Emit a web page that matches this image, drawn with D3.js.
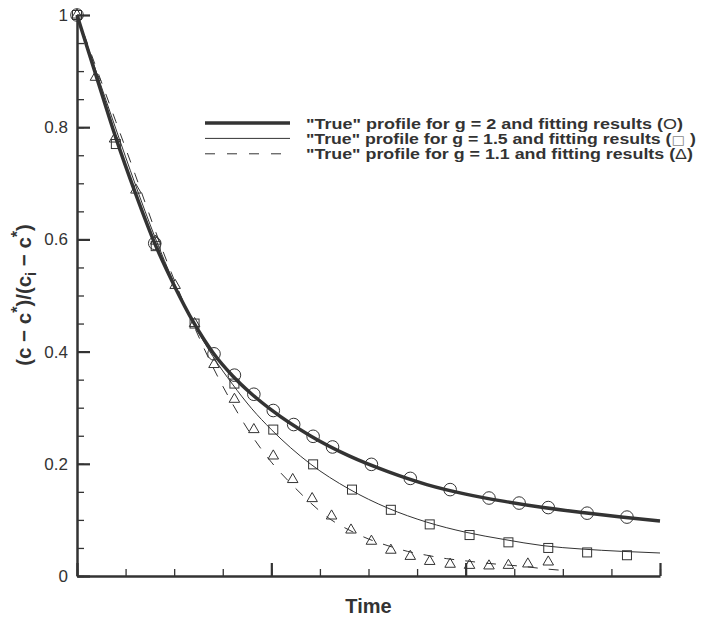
<!DOCTYPE html>
<html>
<head>
<meta charset="utf-8">
<script src="https://cdn.jsdelivr.net/npm/d3@7"></script>
<style>
  body { margin: 0; background: #fff; }
  svg { font-family: "Liberation Sans", Arial, sans-serif; }
</style>
</head>
<body>
<div id="chart"></div>
<script>
// "true" profiles
const curveTime = [0, 0.1, 0.2, 0.3, 0.4, 0.5, 0.6, 0.7, 0.8, 0.9, 1.0, 1.2, 1.4, 1.6, 1.8, 2.0, 2.2, 2.4, 2.6, 2.8, 3.0];
const curveG2  = [1.0, 0.89, 0.781, 0.683, 0.593, 0.518, 0.452, 0.398, 0.357, 0.324, 0.296, 0.250, 0.214, 0.186, 0.163, 0.146, 0.133, 0.122, 0.113, 0.105, 0.098];
const curveG15 = [1.0, 0.898, 0.797, 0.698, 0.605, 0.522, 0.450, 0.391, 0.342, 0.298, 0.261, 0.200, 0.155, 0.121, 0.096, 0.078, 0.065, 0.054, 0.048, 0.044, 0.041];
const dashTime = [0, 0.1, 0.2, 0.3, 0.4, 0.5, 0.6, 0.7, 0.8, 0.9, 1.0, 1.1, 1.2, 1.3, 1.4, 1.5, 1.6, 1.7, 1.8, 1.9, 2.0, 2.1, 2.2, 2.3, 2.4, 2.5];
const curveG11 = [1.0, 0.905, 0.81, 0.715, 0.618, 0.528, 0.447, 0.372, 0.307, 0.250, 0.203, 0.165, 0.131, 0.102, 0.082, 0.066, 0.054, 0.044, 0.037, 0.031, 0.027, 0.023, 0.020, 0.017, 0.013, 0.010];

// fitting results
const circleTime  = [0, 0.40, 0.705, 0.81, 0.91, 1.01, 1.115, 1.215, 1.315, 1.515, 1.715, 1.92, 2.12, 2.275, 2.425, 2.625, 2.83];
const circleValue = [1.0, 0.593, 0.396, 0.358, 0.324, 0.295, 0.270, 0.249, 0.230, 0.199, 0.174, 0.154, 0.139, 0.130, 0.122, 0.112, 0.105];
const squareTime  = [0, 0.2, 0.405, 0.605, 0.81, 1.01, 1.215, 1.415, 1.615, 1.815, 2.02, 2.22, 2.425, 2.625, 2.83];
const squareValue = [1.0, 0.770, 0.588, 0.450, 0.343, 0.261, 0.199, 0.154, 0.118, 0.092, 0.073, 0.060, 0.050, 0.042, 0.037];
const triTime  = [0, 0.095, 0.193, 0.303, 0.405, 0.505, 0.605, 0.705, 0.81, 0.91, 1.01, 1.11, 1.21, 1.31, 1.41, 1.515, 1.615, 1.715, 1.815, 1.92, 2.02, 2.12, 2.22, 2.32, 2.425];
const triValue = [1.0, 0.889, 0.779, 0.688, 0.597, 0.518, 0.450, 0.377, 0.315, 0.261, 0.214, 0.172, 0.138, 0.107, 0.082, 0.062, 0.046, 0.035, 0.026, 0.021, 0.019, 0.018, 0.019, 0.0215, 0.025];

// axes
const yMajor = [0, 0.2, 0.4, 0.6, 0.8, 1];
const yTickLabels = ["0", "0.2", "0.4", "0.6", "0.8", "1"];
const yMinor = d3.range(0, 1.0001, 0.05);
const xMajor = [0, 1, 2, 3];
const xMinor = d3.range(0, 3.0001, 0.25);

const legendLabels = [
  {text: '"True" profile for g = 2 and fitting results (', sym: "O", close: ")"},
  {text: '"True" profile for g = 1.5 and fitting results (', sym: "\u25A1", close: " )"},
  {text: '"True" profile for g = 1.1 and fitting results (', sym: "\u0394", close: ")"}
];

const ink = "#333";
const margin = ({top: 15, right: 42, bottom: 45, left: 77});
const width = 702 - margin.left - margin.right;
const height = 621 - margin.top - margin.bottom;

const svg = d3.select("#chart")
              .append("svg")
              .attr("width", 702)
              .attr("height", 621)
              .append("g")
              .attr("transform", "translate(" + margin.left + "," + margin.top + ")");

let xScale = d3.scaleLinear().domain([0, 3]).range([0, width]);
let yScale = d3.scaleLinear().domain([0, 1]).range([height, 0]);

// minor ticks first, then major
svg.append("g")
   .attr("class", "y-minor")
   .call(d3.axisLeft(yScale).tickValues(yMinor).tickSize(-7).tickFormat(""))
   .call(g => g.select(".domain").remove());

svg.append("g")
   .attr("class", "x-minor")
   .attr("transform", `translate(0, ${height})`)
   .call(d3.axisBottom(xScale).tickValues(xMinor).tickSize(-7).tickFormat(""))
   .call(g => g.select(".domain").remove());

svg.append("g")
   .attr("class", "y-axis")
   .call(d3.axisLeft(yScale)
           .tickValues(yMajor)
           .tickSizeInner(-13)
           .tickSizeOuter(0)
           .tickPadding(9)
           .tickFormat((d, i) => yTickLabels[i]));

svg.append("g")
   .attr("class", "x-axis")
   .attr("transform", `translate(0, ${height})`)
   .call(d3.axisBottom(xScale)
           .tickValues(xMajor)
           .tickSizeInner(-13)
           .tickSizeOuter(0)
           .tickFormat(""));

svg.selectAll(".domain").attr("stroke", ink).attr("stroke-width", 2.5);
svg.selectAll(".y-axis .tick line, .x-axis .tick line").attr("stroke", ink).attr("stroke-width", 2.2);
svg.selectAll(".y-minor .tick line, .x-minor .tick line").attr("stroke", ink).attr("stroke-width", 1.3);
svg.selectAll(".y-axis text")
   .attr("font-size", 17)
   .attr("fill", ink)
   .attr("font-family", "Liberation Sans, Arial, sans-serif");

// curves
const line = d3.line()
               .x(d => xScale(d[0]))
               .y(d => yScale(d[1]))
               .curve(d3.curveMonotoneX);

svg.append("path")
   .datum(d3.zip(curveTime, curveG2))
   .attr("fill", "none").attr("stroke", ink).attr("stroke-width", 3.5)
   .attr("d", line);

svg.append("path")
   .datum(d3.zip(curveTime, curveG15))
   .attr("fill", "none").attr("stroke", ink).attr("stroke-width", 1)
   .attr("d", line);

svg.append("path")
   .datum(d3.zip(dashTime, curveG11))
   .attr("fill", "none").attr("stroke", ink).attr("stroke-width", 1)
   .attr("stroke-dasharray", "10,11")
   .attr("d", line);

// markers
svg.selectAll(".circ")
   .data(d3.zip(circleTime, circleValue))
   .join("circle")
   .attr("class", "circ")
   .attr("cx", d => xScale(d[0]))
   .attr("cy", d => yScale(d[1]))
   .attr("r", 6.3)
   .attr("fill", "none").attr("stroke", ink).attr("stroke-width", 1);

svg.selectAll(".sq")
   .data(d3.zip(squareTime, squareValue))
   .join("rect")
   .attr("class", "sq")
   .attr("x", d => xScale(d[0]) - 4.5)
   .attr("y", d => yScale(d[1]) - 4.5)
   .attr("width", 9).attr("height", 9)
   .attr("fill", "none").attr("stroke", ink).attr("stroke-width", 1);

const tri = d3.symbol().type(d3.symbolTriangle).size(48);
svg.selectAll(".tri")
   .data(d3.zip(triTime, triValue))
   .join("path")
   .attr("class", "tri")
   .attr("transform", d => `translate(${xScale(d[0])},${yScale(d[1])})`)
   .attr("d", tri)
   .attr("fill", "none").attr("stroke", ink).attr("stroke-width", 1);

// legend
const legend = svg.append("g").attr("transform", `translate(${205 - margin.left}, ${123 - margin.top})`);
const legendDash = [null, null, "10,12"];
const legendWidth = [3.5, 1, 1];
const legendTextLength = [377, 390, 387];
legendLabels.forEach((l, i) => {
  const row = legend.append("g").attr("transform", `translate(0, ${i * 15.4})`);
  row.append("line")
     .attr("x1", 0).attr("x2", 85)
     .attr("stroke", ink)
     .attr("stroke-width", legendWidth[i])
     .attr("stroke-dasharray", legendDash[i]);
  const t = row.append("text")
     .attr("x", 101).attr("y", 5.5)
     .attr("font-size", 14.5).attr("font-weight", "bold").attr("fill", ink)
     .attr("textLength", legendTextLength[i])
     .attr("lengthAdjust", "spacingAndGlyphs");
  t.append("tspan").text(l.text);
  t.append("tspan").attr("font-weight", "normal")
   .attr("fill", i === 1 ? "#888" : ink)
   .attr("font-size", i === 1 ? 12 : 14.5)
   .attr("font-family", i === 1 ? "DejaVu Sans" : null)
   .text(l.sym);
  t.append("tspan").text(l.close);
});

// axis titles
svg.append("text")
   .attr("x", xScale(1.5))
   .attr("y", height + 37)
   .attr("text-anchor", "middle")
   .attr("font-size", 20).attr("font-weight", "bold").attr("fill", ink)
   .text("Time");

const ylab = svg.append("text")
   .attr("transform", `translate(${31 - margin.left}, ${295 - margin.top}) rotate(-90)`)
   .attr("text-anchor", "middle")
   .attr("font-size", 20.5).attr("font-weight", "bold").attr("fill", ink);
ylab.append("tspan").text("(c \u2212 c");
ylab.append("tspan").attr("dy", -8).attr("font-size", 16).text("*");
ylab.append("tspan").attr("dy", 8).text(")/(c");
ylab.append("tspan").attr("dy", 5).attr("font-size", 14).text("i");
ylab.append("tspan").attr("dy", -5).text(" \u2212 c");
ylab.append("tspan").attr("dy", -8).attr("font-size", 16).text("*");
ylab.append("tspan").attr("dy", 8).text(")");
</script>
</body>
</html>
